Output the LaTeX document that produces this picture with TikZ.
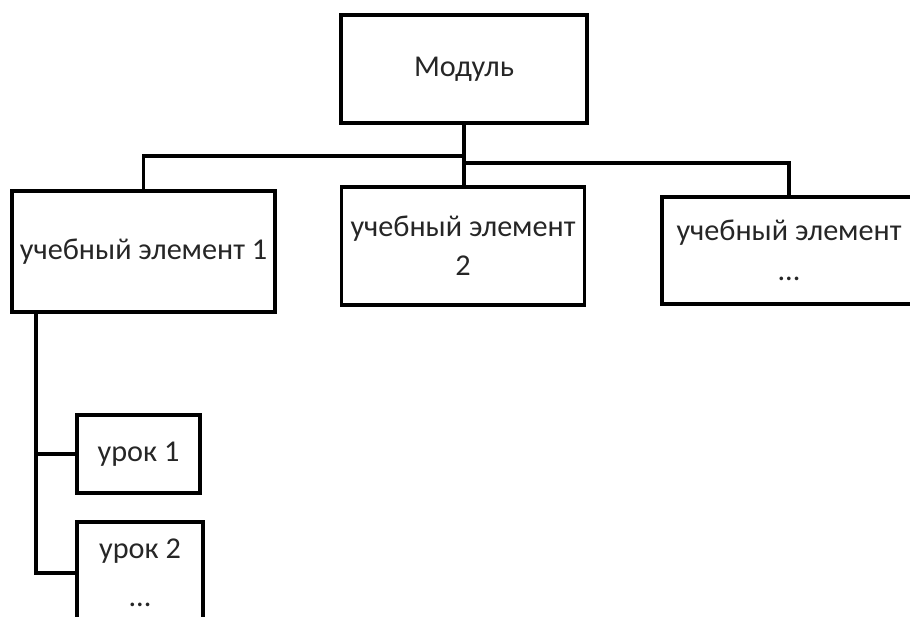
\documentclass[tikz,border=0pt]{standalone}
\usepackage{fontspec}
\setmainfont{Carlito}
\usetikzlibrary{positioning,calc}

\newlength\px
\setlength\px{0.025cm}

\tikzset{
    box/.style={draw, line width=2.5pt, align=center, inner sep=2pt,
        text=black!85, font=\fontsize{21.5}{28}\selectfont},
    link/.style={line width=2.5pt},
}

\begin{document}
\begin{tikzpicture}[x=0.025cm, y=-0.025cm]
    \useasboundingbox (0,0) rectangle (910,617);

    \node[box, minimum width=246\px, minimum height=108\px] (mod) at (464,69) {Модуль};

    \node[box, minimum width=263\px, minimum height=121\px] (ue1) at (143.5,251.5) {учебный элемент 1};
    \node[box, minimum width=243\px, minimum height=118\px] (ue2) at (463,246) {учебный элемент\\2};
    \node[box, minimum width=254\px, minimum height=107\px] (ue3) at (789,250.5) {учебный элемент\\...};

    \node[box, minimum width=123\px, minimum height=78\px] (ur1) at (138.5,454) {урок 1};
    \node[box, minimum width=126\px, minimum height=102\px] (ur2) at (140,573) {урок 2\\[6pt]...};

    \coordinate (hubL) at (464,156);
    \coordinate (hubR) at (464,163);
    \coordinate (spine) at ([xshift=26\px]ue1.south west);

    \draw[link] (mod.south) -- (hubR) -| (ue3.north);
    \draw[link] (hubL) -| (ue1.north);
    \draw[link] (hubR) -- (hubR |- ue2.north);

    \draw[link] (spine) |- (ur2.west);
    \draw[link] (spine |- ur1.west) -- (ur1.west);
\end{tikzpicture}
\end{document}
